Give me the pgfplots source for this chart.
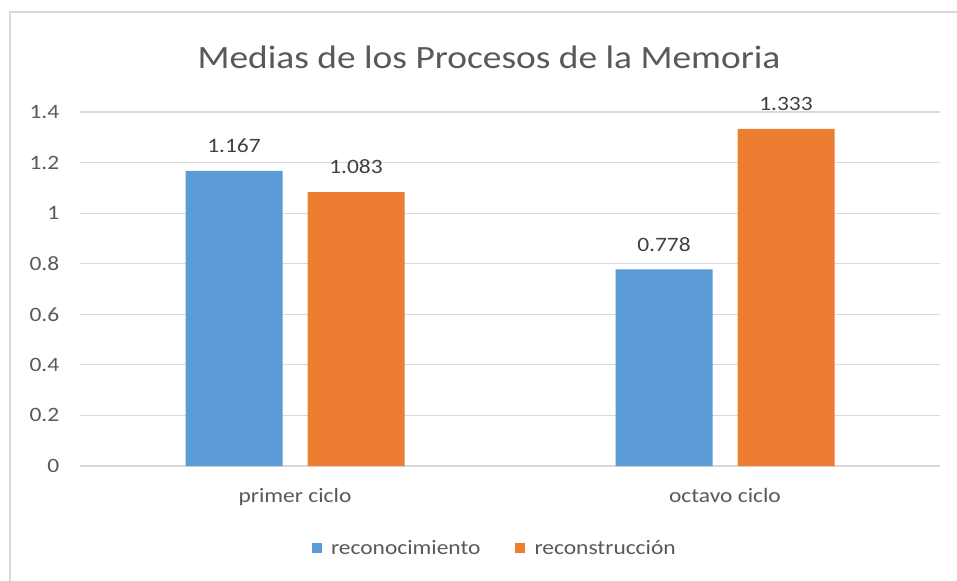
\documentclass[border=0pt]{standalone}
\usepackage{pgfplots}
\pgfplotsset{compat=1.18}
\usepackage{fontspec}
\setmainfont{Carlito}[FakeStretch=1.15]
\definecolor{cblue}{HTML}{5B9BD5}
\definecolor{corange}{HTML}{ED7D31}
\definecolor{ctext}{HTML}{595959}
\definecolor{clabel}{HTML}{404040}
\definecolor{cgrid}{HTML}{D9D9D9}
\definecolor{cframe}{HTML}{D9D9D9}
\begin{document}
\begin{tikzpicture}
% marco y titulo (1px = 0.75pt)
\path[use as bounding box] (0pt,0pt) rectangle (717.75pt,-435.75pt);
\draw[cframe, line width=1.5pt] (7.5pt,-435.75pt) -- (7.5pt,-9pt) -- (717.75pt,-9pt);
\node[text=ctext, font=\fontsize{24.4}{28}\selectfont] at (366.75pt,-42.75pt) {Medias de los Procesos de la Memoria};
\begin{axis}[
at={(60pt,-349.5pt)}, anchor=south west,
scale only axis, width=645pt, height=265.5pt,
ybar=18.75pt, bar width=72.75pt,
xmin=-0.5, xmax=1.5, ymin=0, ymax=1.4,
xtick={0,1}, xticklabels={primer ciclo, octavo ciclo},
ytick={0,0.2,0.4,0.6,0.8,1,1.2,1.4},
yticklabels={0,0.2,0.4,0.6,0.8,1,1.2,1.4},
axis line style={draw=none},
major tick length=0pt,
ymajorgrids, grid style={cgrid, line width=0.9pt},
tick label style={text=ctext, font=\fontsize{15.3}{18}\selectfont},
xticklabel style={yshift=-13pt},
yticklabel style={xshift=-12pt},
nodes near coords,
nodes near coords style={text=clabel, font=\fontsize{15.3}{18}\selectfont, /pgf/number format/assume math mode=true, /pgf/number format/fixed, /pgf/number format/precision=3, /pgf/number format/fixed zerofill, yshift=10pt},
legend style={at={(0.4826,-0.233)}, anchor=center, draw=none, legend columns=2, font=\fontsize{15.3}{18}\selectfont, text=ctext, /tikz/every even column/.append style={column sep=24pt}, /tikz/every odd column/.append style={column sep=5pt}},
legend image code/.code={\fill[#1] (0pt,-3.75pt) rectangle (7.5pt,3.75pt);},
]
\addplot[fill=cblue, draw=none] coordinates {(0,1.167) (1,0.778)};
\addplot[fill=corange, draw=none] coordinates {(0,1.083) (1,1.333)};
\legend{reconocimiento, reconstrucción}
\end{axis}
\end{tikzpicture}
\end{document}
